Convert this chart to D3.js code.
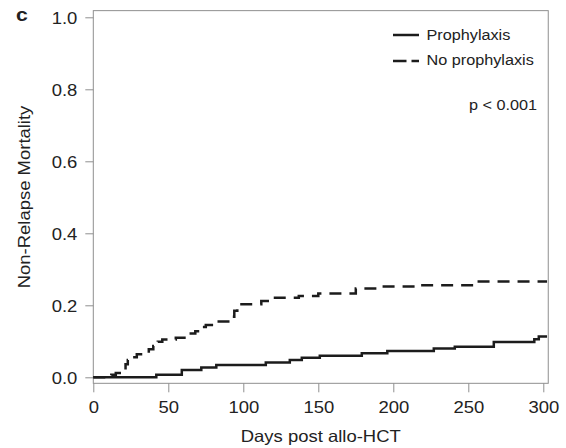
<!DOCTYPE html>
<html>
<head>
<meta charset="utf-8">
<script src="https://cdn.jsdelivr.net/npm/d3@7"></script>
<style>
  body { margin: 0; background: #fff; }
  text { font-family: "Liberation Sans", Arial, Helvetica, sans-serif; fill: #222; }
</style>
</head>
<body>
<div id="chart"></div>
<script>
// step points (day, cumulative incidence)
const prophDays = [0, 42, 59, 72, 82, 115, 131, 139, 151, 179, 196, 227, 241, 267, 294, 297, 302.5];
const prophVals = [0, 0.007, 0.02, 0.027, 0.034, 0.041, 0.048, 0.054, 0.06, 0.067, 0.073, 0.08, 0.085, 0.098, 0.106, 0.113, 0.113];

const noProphDays = [0, 12, 15, 20, 21.5, 23, 25, 29, 37, 40, 43, 46, 55, 65, 68, 73, 75, 82, 93, 94, 96, 112, 118, 137, 150, 175, 189, 215, 255, 302.5];
const noProphVals = [0, 0.007, 0.012, 0.025, 0.036, 0.048, 0.056, 0.064, 0.078, 0.087, 0.099, 0.105, 0.11, 0.122, 0.128, 0.14, 0.145, 0.155, 0.168, 0.185, 0.203, 0.212, 0.221, 0.226, 0.233, 0.247, 0.252, 0.256, 0.266, 0.266];

const xTicks = [0, 50, 100, 150, 200, 250, 300];
const yTicks = [0, 0.2, 0.4, 0.6, 0.8, 1.0];
const legendLabels = ['Prophylaxis', 'No prophylaxis'];

const width = 566, height = 448;
const stretch = 1.12; // the original type is set a bit wide
const grey = '#8f8f8f';

const svg = d3.select('#chart')
    .append('svg')
    .attr('width', width)
    .attr('height', height);

const x = d3.scaleLinear().domain([0, 300]).range([93.3, 543.3]);
const y = d3.scaleLinear().domain([0, 1]).range([377.3, 17.3]);

const xMax = 303.3, yMin = -0.0167, yMax = 1.0185;

// plot box
svg.append('rect')
    .attr('x', x(0))
    .attr('y', y(yMax))
    .attr('width', x(xMax) - x(0))
    .attr('height', y(yMin) - y(yMax))
    .attr('fill', 'none')
    .attr('stroke', grey)
    .attr('stroke-width', 1);

const xAxis = svg.append('g')
    .attr('transform', `translate(0,${y(yMin)})`)
    .call(d3.axisBottom(x).tickValues(xTicks).tickSize(9).tickPadding(9.4).tickSizeOuter(0));

const yAxis = svg.append('g')
    .attr('transform', `translate(${x(0)},0)`)
    .call(d3.axisLeft(y).tickValues(yTicks).tickFormat(d3.format('.1f')).tickSize(8).tickSizeOuter(0));

[xAxis, yAxis].forEach(ax => {
    ax.select('.domain').remove();
    ax.selectAll('line').attr('stroke', grey);
    ax.selectAll('text')
        .attr('font-size', 16.5)
        .attr('fill', '#2a2a2a')
        .attr('transform', `scale(${stretch},1)`);
});
yAxis.selectAll('text').attr('x', -16 / stretch).attr('dy', '0.38em');

// curves
const line = d3.line()
    .x(d => x(d[0]))
    .y(d => y(d[1]))
    .curve(d3.curveStepAfter);

const series = [
    { days: prophDays, vals: prophVals, dash: null },
    { days: noProphDays, vals: noProphVals, dash: '12,8' }
];

series.forEach(s => {
    svg.append('path')
        .datum(d3.zip(s.days, s.vals))
        .attr('fill', 'none')
        .attr('stroke', '#1c1c1c')
        .attr('stroke-width', 2.5)
        .attr('stroke-dasharray', s.dash)
        .attr('d', line);
});

// legend
const legY = [35, 61];
const legTextY = [40, 65];
legendLabels.forEach((lab, i) => {
    svg.append('line')
        .attr('x1', 393).attr('x2', 419)
        .attr('y1', legY[i]).attr('y2', legY[i])
        .attr('stroke', '#1c1c1c')
        .attr('stroke-width', 2.5)
        .attr('stroke-dasharray', i === 1 ? '13.5,5' : null);
    svg.append('text')
        .attr('transform', `translate(426.5,${legTextY[i]}) scale(${stretch},1)`)
        .attr('font-size', 14.5)
        .text(lab);
});

svg.append('text')
    .attr('transform', `translate(469,110) scale(${stretch},1)`)
    .attr('font-size', 14.5)
    .text('p < 0.001');

// axis titles
svg.append('text')
    .attr('transform', `translate(${(x(0) + x(xMax)) / 2},441.5) scale(${stretch},1)`)
    .attr('text-anchor', 'middle')
    .attr('font-size', 16.5)
    .text('Days post allo-HCT');

svg.append('text')
    .attr('transform', `translate(29.5,${(y(yMin) + y(yMax)) / 2}) rotate(-90) scale(${stretch},1)`)
    .attr('text-anchor', 'middle')
    .attr('font-size', 16.5)
    .text('Non-Relapse Mortality');

// panel letter
svg.append('text')
    .attr('transform', `translate(16,20.5) scale(1.12,1)`)
    .attr('font-size', 19)
    .attr('font-weight', 'bold')
    .attr('fill', '#111')
    .text('c');
</script>
</body>
</html>
